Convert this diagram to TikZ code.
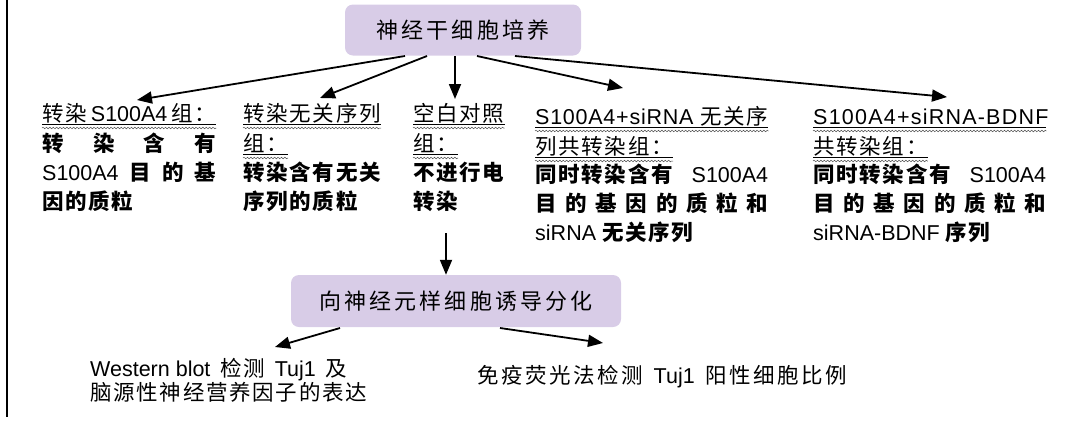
\documentclass[tikz,border=0pt]{standalone}
\usepackage{fontspec}
\setmainfont{Liberation Sans}
\newfontfamily\zh{Noto Sans CJK SC}[LetterSpace=8]
\newfontfamily\zhwide{Noto Sans CJK SC}[LetterSpace=12]
\newfontfamily\zhbox{Noto Sans CJK SC}[LetterSpace=14]
\newfontfamily\latsp{Liberation Sans}[LetterSpace=5.7]
\newfontfamily\latspa{Liberation Sans}[LetterSpace=3.5]
\usetikzlibrary{arrows.meta,decorations.pathmorphing}
\definecolor{boxfill}{RGB}{216,204,231}
\newcommand\Z[1]{{\zh #1}}
\newcommand\B[1]{{\zh\bfseries #1}}
\begin{document}
\begin{tikzpicture}[x=1pt,y=-1pt,
  txt/.style={inner sep=0pt, anchor=base west, font=\fontsize{21.5pt}{25pt}\selectfont},
  box/.style={fill=boxfill, rounded corners=8pt, inner sep=0pt, font=\fontsize{22pt}{25pt}\selectfont\zhbox},
  arr/.style={line width=1.8pt, -{Triangle[length=15pt,width=12pt]}},
  uline/.style={line width=0.8pt},
  wave/.style={line width=0.5pt, black!70, decorate, decoration={snake, amplitude=0.8pt, segment length=3.4pt}}]
\useasboundingbox (0,0) rectangle (1070,421);
\draw[line width=1.2pt] (7,0) -- (7,417);

% boxes
\node[box, minimum width=236pt, minimum height=51pt] (top) at (463,30) {神经干细胞培养};
\node[box, minimum width=330pt, minimum height=52pt] (diff) at (456,301) {向神经元样细胞诱导分化};

% column 1
\node[txt] (a1) at (42,121) {\hbox to 174pt{\Z{转染}\hfil S100A4\hfil\Z{组：}}};
\node[txt] (a2) at (42,151) {\hbox to 174pt{\B{转}\hfill\B{染}\hfill\B{含}\hfill\B{有}}};
\node[txt] (a3) at (42,180) {\hbox to 174pt{S100A4\hfill\B{目}\hfill\B{的}\hfill\B{基}}};
\node[txt] (a4) at (42,209) {\B{因的质粒}};
% column 2
\node[txt] (b1) at (243,121) {\Z{转染无关序列}};
\node[txt] (b2) at (243,151) {\Z{组：}};
\node[txt] (b3) at (243,180) {\B{转染含有无关}};
\node[txt] (b4) at (243,209) {\B{序列的质粒}};
% column 3
\node[txt] (c1) at (413,121) {\Z{空白对照}};
\node[txt] (c2) at (413,151) {\Z{组：}};
\node[txt] (c3) at (413,180) {\B{不进行电}};
\node[txt] (c4) at (413,209) {\B{转染}};
% column 4
\node[txt] (d1) at (535,124) {\hbox to 233pt{{\latspa S100A4+siRNA}\hfil\Z{无关序}}};
\node[txt] (d2) at (535,154) {\Z{列共转染组：}};
\node[txt] (d3) at (535,182) {\hbox to 233pt{\B{同时转染含有}\hfill S100A4}};
\node[txt] (d4) at (535,211) {\hbox to 233pt{\B{目}\hfill\B{的}\hfill\B{基}\hfill\B{因}\hfill\B{的}\hfill\B{质}\hfill\B{粒}\hfill\B{和}}};
\node[txt] (d5) at (535,240) {siRNA \B{无关序列}};
% column 5
\node[txt] (e1) at (813,124) {\hbox to 233pt{\latsp S100A4+siRNA-BDNF\hfil}};
\node[txt] (e2) at (813,154) {\Z{共转染组：}};
\node[txt] (e3) at (813,182) {\hbox to 233pt{\B{同时转染含有}\hfill S100A4}};
\node[txt] (e4) at (813,211) {\hbox to 233pt{\B{目}\hfill\B{的}\hfill\B{基}\hfill\B{因}\hfill\B{的}\hfill\B{质}\hfill\B{粒}\hfill\B{和}}};
\node[txt] (e5) at (813,240) {siRNA-BDNF \B{序列}};

% underlines
\foreach \n in {a1,b1,b2,c1,c2,d1,d2,e1,e2}{
  \draw[uline] ([yshift=-3pt]\n.base west) -- ([yshift=-3pt]\n.base east);
  \draw[wave] ([yshift=-7pt]\n.base west) -- ([yshift=-7pt]\n.base east);
}

% bottom texts
\node[txt] (w1) at (90,376) {\hbox to 257pt{Western blot\hfil\Z{检测}\hfil Tuj1\hfil\Z{及}}};
\node[txt] (w2) at (90,400) {\Z{脑源性神经营养因子的表达}};
\node[txt] (f1) at (477,383) {\hbox to 370pt{{\zhwide 免疫荧光法检测}\hfil Tuj1\hfil{\zhwide 阳性细胞比例}}};

% arrow coordinates
\coordinate (s1) at (405,56);
\coordinate (s2) at (427,56);
\coordinate (s3) at (455,56);
\coordinate (s4) at (477,56);
\coordinate (s5) at (515,56);
\coordinate (t1) at (137,100);
\coordinate (t2) at (320,98);
\coordinate (t3) at (455,99);
\coordinate (t4) at (623,88);
\coordinate (t5) at (947,97);
\coordinate (u0) at (446,233);
\coordinate (u1) at (340,328);
\coordinate (u2) at (500,328);
\coordinate (v1) at (275,347);
\coordinate (v2) at (603,343);

\draw[arr] (s1) -- (t1);
\draw[arr] (s2) -- (t2);
\draw[arr] (s3) -- (t3);
\draw[arr] (s4) -- (t4);
\draw[arr] (s5) -- (t5);
\draw[arr] (u0) -- (u0 |- diff.north);
\draw[arr] (u1) -- (v1);
\draw[arr] (u2) -- (v2);
\end{tikzpicture}
\end{document}
